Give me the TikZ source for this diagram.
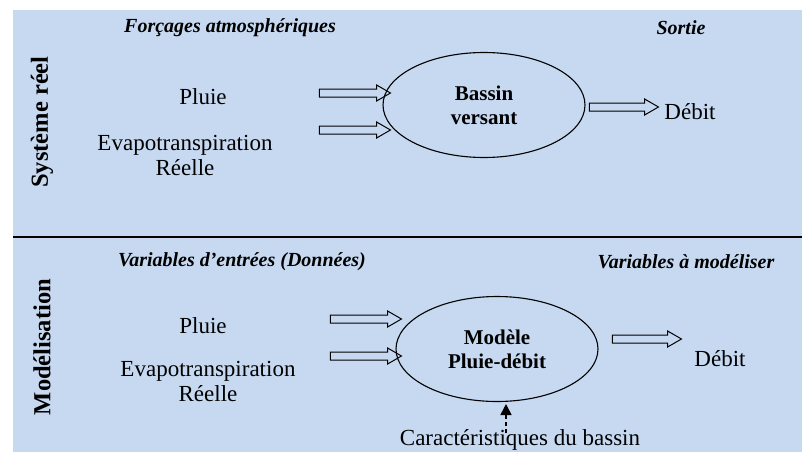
\documentclass[tikz,border=0pt]{standalone}
\usepackage{fontspec}
\setmainfont{Liberation Serif}
\usetikzlibrary{shapes.geometric,shapes.arrows,arrows.meta}
\definecolor{panel}{HTML}{C6D9F1}
\tikzset{
  lbl/.style={font=\fontsize{23}{25}\selectfont, align=center, inner sep=0pt},
  head/.style={font=\fontsize{20}{22}\selectfont\bfseries\itshape, inner sep=0pt},
  side/.style={font=\fontsize{24.5}{26}\selectfont\bfseries, rotate=90, inner sep=0pt},
  bloc/.style={ellipse, draw, line width=1.1pt, minimum width=202pt, minimum height=105pt,
    font=\fontsize{21}{24}\selectfont\bfseries, align=center, inner sep=0pt},
  flow/.style={single arrow, draw, line width=1pt, minimum height=#1, inner xsep=0pt,
    inner ysep=3.5pt, single arrow head extend=4pt, single arrow tip angle=60},
  flow/.default=71pt
}
\begin{document}
\begin{tikzpicture}[x=1pt,y=-1pt]
  \useasboundingbox (0,0) rectangle (802,452);
  % background panels and separator
  \fill[panel] (13,10) rectangle (802,452);
  \draw[line width=1.5pt] (13,237) -- (802,237);

  % --- real system ---
  \node[side] (sys) at (42,122) {Système réel};
  \node[head] (forc) at (230,28) {Forçages atmosphériques};
  \node[head] (sort) at (681,28) {Sortie};
  \node[lbl] (pl1) at (203,97) {Pluie};
  \node[lbl] (etr1) at (185,155) {Evapotranspiration\\Réelle};
  \node[bloc] (bv) at (484,105) {Bassin\\versant};
  \node[flow] (a1) at (351.5,93) {};
  \node[flow] (a2) at (351.5,130) {};
  \node[flow=69pt] (a3) at (620.5,107) {};
  \node[lbl] (deb1) at (690,112) {Débit};

  % --- model ---
  \node[side] (mod) at (42,347) {Modélisation};
  \node[head] (vin) at (242,262) {Variables d’entrées (Données)};
  \node[head] (vout) at (686,262) {Variables à modéliser};
  \node[lbl] (pl2) at (203,326) {Pluie};
  \node[lbl] (etr2) at (208,381) {Evapotranspiration\\Réelle};
  \node[bloc] (mpd) at (497,349) {Modèle\\Pluie-débit};
  \node[flow] (b1) at (362.5,319) {};
  \node[flow] (b2) at (362.5,356) {};
  \node[flow=69pt] (b3) at (643.5,339) {};
  \node[lbl] (deb2) at (720,359) {Débit};
  \node[lbl] (car) at (520,440) {Caractéristiques du bassin};
  \coordinate (cfoot) at (506,433);
  \coordinate (ctip) at (506,404);
  \draw[line width=1.6pt, dash pattern=on 4pt off 3pt,
        -{Triangle[width=11pt,length=11pt]}] (cfoot) -- (ctip);
\end{tikzpicture}
\end{document}
